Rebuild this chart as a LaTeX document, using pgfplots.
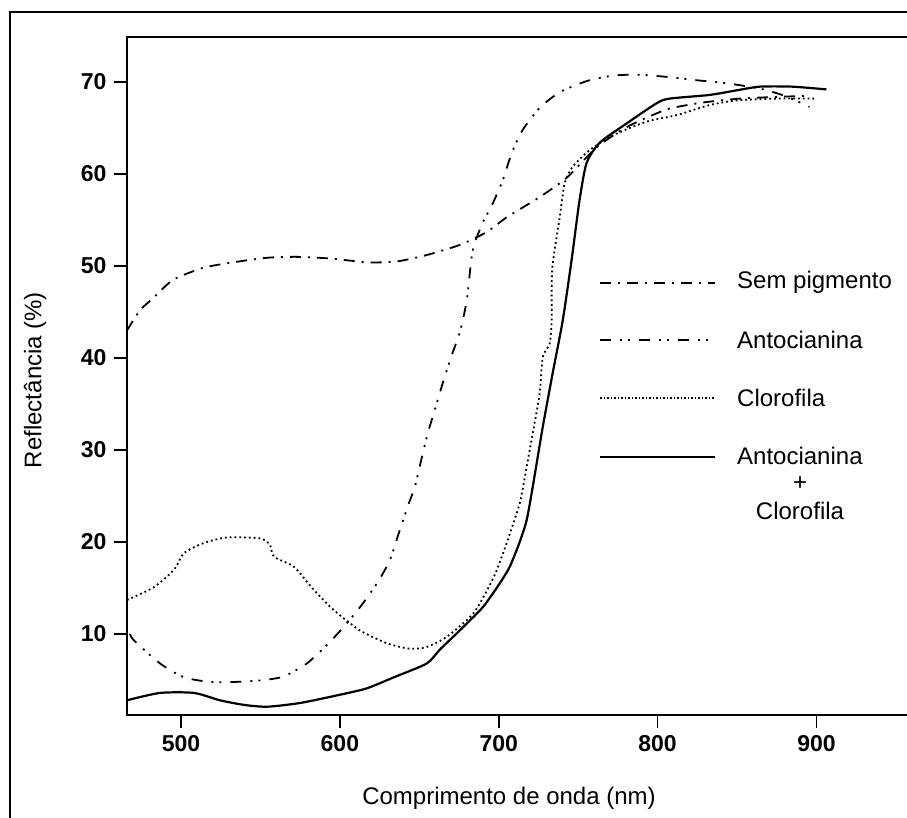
\documentclass[border=0pt]{standalone}
\usepackage{pgfplots}
\pgfplotsset{compat=1.18}
\usepackage{fontspec}
\setmainfont{Liberation Sans}
\begin{document}
\begin{tikzpicture}
\useasboundingbox (-127pt,-103pt) rectangle (780pt,715pt);
\tikzset{
  semp/.style={line width=1.8pt, dash pattern=on 11pt off 7pt on 2pt off 7pt},
  anto/.style={line width=1.8pt, dash pattern=on 11pt off 9pt on 2pt off 6pt on 2pt off 9pt},
  cloro/.style={line width=1.8pt, dash pattern=on 1.8pt off 3pt},
  both/.style={line width=2.2pt},
}
\begin{axis}[
  at={(0pt,0pt)}, anchor=south west,
  scale only axis, width=780pt, height=678pt,
  xmin=466, xmax=957, ymin=1.2, ymax=74.9,
  xtick={500,600,700,800,900}, ytick={10,20,30,40,50,60,70},
  tick align=outside, xtick pos=bottom, ytick pos=left,
  major tick length=13pt,
  tick style={line width=1.6pt, black},
  axis line style={draw=none},
  clip=false,
  /pgf/number format/assume math mode=true,
  /pgf/number format/1000 sep={},
  tick label style={font=\fontsize{23}{27}\selectfont\bfseries},
  every x tick label/.append style={yshift=-4pt},
  every y tick label/.append style={xshift=-4pt},
]
\draw[line width=2pt] (rel axis cs:1,0) -- (rel axis cs:0,0) -- (rel axis cs:0,1) -- (rel axis cs:1,1);

% Sem pigmento
\addplot[semp, smooth, tension=0.4] coordinates {
(466,43.0) (474.2,45.2) (482.4,46.5) (495.0,48.5) (513.8,49.8) (532.7,50.4)
(554.1,50.9) (573,51.0) (595.6,50.8) (617,50.4) (635.8,50.5) (654.7,51.2)
(675.5,52.3) (692.5,53.7) (705,55.3) (725.8,57.5) (742.8,59.6) (761.6,62.9)
(780.5,65.1) (799.4,66.6) (809.4,67.2) (829.6,67.8) (851.6,68.2) (876.7,68.4) (895.6,68.5)
};
% Antocianina
\addplot[anto, smooth, tension=0.4] coordinates {
(467.9,10.0) (470.4,9.3) (486.8,6.8) (501.9,5.3) (518.2,4.8) (535.2,4.8)
(552.2,5.0) (564.8,5.4) (579.2,6.8) (591.8,8.8) (602.5,10.8) (612.6,12.9)
(623.3,15.5) (631.4,18.0) (637.7,21.3) (643.4,24.2) (647.2,26.0) (651.6,29.2)
(655.3,31.8) (661.0,35.1) (664.8,37.3) (670.4,40.3) (675.5,42.8) (679.9,46.3)
(683.6,51.7) (689.9,54.7) (696.2,56.8) (702.5,59.3) (708.2,62.3) (715.1,64.8)
(725.8,67.2) (738.4,68.9) (755.3,70.1) (771.7,70.7) (788.7,70.8) (809.4,70.5)
(824.5,70.2) (842.1,69.9) (864.2,69.3) (880,68.5) (895.6,67.3)
};
% Clorofila
\addplot[cloro, smooth, tension=0.4] coordinates {
(466,13.7) (483,15.1) (495.6,17.0) (501.9,18.8) (514.5,19.9) (528.9,20.5)
(549.7,20.4) (556,19.7) (558.5,18.4) (571.1,17.3) (583.6,14.8) (596.2,12.6)
(612.6,10.4) (629.6,9.0) (644,8.4) (654.7,8.6) (667.3,9.7) (684.3,12.3)
(696.9,16.2) (705,19.9) (713.2,24.2) (717.6,28.2) (721.4,31.8) (725.8,36.2)
(727.7,40.1) (732.1,41.6) (733.3,44.1) (733.3,47.7) (734,50.3) (738.4,55.3)
(741.5,59.0) (746.5,60.8) (757.2,62.6) (771.7,64.2) (793.1,65.7) (811.9,66.4)
(832.7,67.5) (849.7,68.0) (874.8,68.2) (900,68.2)
};
% Antocianina + Clorofila
\addplot[both, smooth, tension=0.4] coordinates {
(466,2.8) (486.8,3.6) (508.2,3.6) (524.5,2.8) (539.6,2.3) (554.1,2.1)
(574.8,2.5) (600,3.4) (617,4.1) (634,5.3) (654.7,6.8) (662.9,8.3)
(675.5,10.4) (689.9,12.9) (700.6,15.5) (706.9,17.3) (713.2,20.0) (717.6,22.4)
(721.4,26.0) (727.7,32.5) (734,38.4) (740.3,44.1) (745.9,50.7) (750.9,57.2)
(755.3,61.2) (763.5,63.4) (780.5,65.5) (799.4,67.7) (807.5,68.2) (832.7,68.6)
(849.7,69.1) (864.2,69.5) (884.9,69.5) (906.3,69.2)
};
\end{axis}

% outer frame
\draw[line width=2pt] (-117pt,-103pt) -- (-117pt,703pt) -- (780pt,703pt);

% axis labels
\node[font=\fontsize{24}{28}\selectfont] at (382pt,-83pt) {Comprimento de onda (nm)};
\node[font=\fontsize{24}{28}\selectfont, rotate=90] at (-92pt,335pt) {Reflectância (\%)};

% legend
\draw[semp] (473pt,432pt) -- (588pt,432pt);
\draw[anto] (473pt,375pt) -- (588pt,375pt);
\draw[cloro, line width=1.5pt, dash pattern=on 1.5pt off 2pt] (473pt,317pt) -- (588pt,317pt);
\draw[both] (473pt,258pt) -- (588pt,258pt);
\begin{scope}[every node/.style={font=\fontsize{24}{28}\selectfont, inner sep=0pt}]
\node[anchor=west] at (610pt,433pt) {Sem pigmento};
\node[anchor=west] at (610pt,375pt) {Antocianina};
\node[anchor=west] at (610pt,317pt) {Clorofila};
\node[anchor=west] at (610pt,259pt) {Antocianina};
\node at (673pt,231pt) {+};
\node at (673pt,204pt) {Clorofila};
\end{scope}
\end{tikzpicture}
\end{document}
